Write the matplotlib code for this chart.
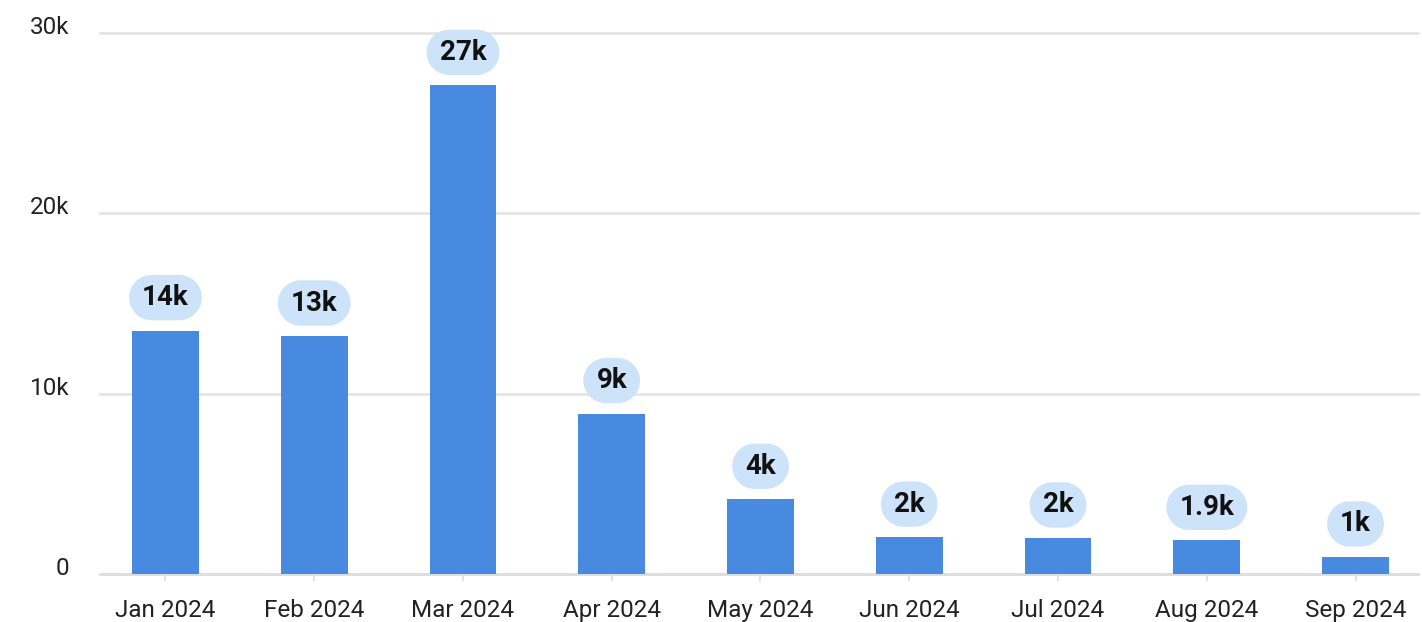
import matplotlib
matplotlib.use("Agg")
import numpy as np
import matplotlib.pyplot as plt
from matplotlib.path import Path
from matplotlib.transforms import ScaledTranslation

months = ["Jan 2024", "Feb 2024", "Mar 2024", "Apr 2024", "May 2024",
          "Jun 2024", "Jul 2024", "Aug 2024", "Sep 2024"]
values = [13500, 13200, 27100, 8900, 4150, 2050, 2000, 1870, 950]
value_labels = ["14k", "13k", "27k", "9k", "4k", "2k", "2k", "1.9k", "1k"]
y_ticks = [0, 10000, 20000, 30000]
y_tick_labels = ["0", "10k", "20k", "30k"]

plt.rcParams["font.family"] = ["Roboto", "DejaVu Sans"]


def pill_box(x0, y0, width, height, mutation_size):
    px = mutation_size * 0.47
    py = mutation_size * 0.33
    x0, y0 = x0 - px, y0 - py
    w, h = width + 2 * px, height + 2 * py
    r = h / 2.0
    t1 = np.linspace(-np.pi / 2, np.pi / 2, 40)
    t2 = np.linspace(np.pi / 2, 3 * np.pi / 2, 40)
    right = np.column_stack([x0 + w - r + r * np.cos(t1), y0 + r + r * np.sin(t1)])
    left = np.column_stack([x0 + r + r * np.cos(t2), y0 + r + r * np.sin(t2)])
    verts = np.vstack([right, left, right[:1]])
    return Path(verts, closed=True)


fig = plt.figure(figsize=(14.22, 6.22), dpi=100)
ax = fig.add_axes([100 / 1422, 48 / 622, 1318 / 1422, 541 / 622])

x = list(range(len(months)))
ax.bar(x, values, width=0.45, color="#478ADF", zorder=3)

ax.set_xlim(-0.44, len(months) - 1 + 0.42)
ax.set_ylim(0, 30000)
ax.set_yticks(y_ticks)
ax.set_yticklabels(y_tick_labels)
ax.set_xticks(x)
ax.set_xticklabels(months)

ax.grid(axis="y", color="#E3E3E3", linewidth=1.8, zorder=0)
for gl in ax.get_ygridlines():
    gl.set_clip_on(False)
ax.set_axisbelow(True)

for s in ["top", "right", "left"]:
    ax.spines[s].set_visible(False)
ax.spines["bottom"].set_color("#DCDCDC")
ax.spines["bottom"].set_linewidth(1.8)

ax.tick_params(axis="y", length=0, pad=22, labelsize=17.5, labelcolor="#222222")
ax.tick_params(axis="x", length=5, width=1.2, color="#DCDCDC", pad=13,
               labelsize=17.5, labelcolor="#222222")

off = ScaledTranslation(0, 8 / 100, fig.dpi_scale_trans)
for lab in ax.get_yticklabels():
    lab.set_transform(lab.get_transform() + off)

for xi, v, lbl in zip(x, values, value_labels):
    ax.annotate(lbl, xy=(xi, v), xytext=(0, 14), textcoords="offset points",
                ha="center", va="bottom", fontsize=20, fontweight="bold", color="#111111",
                annotation_clip=False, zorder=4,
                bbox=dict(boxstyle=pill_box, facecolor="#CCE3FA", edgecolor="none"))

fig.savefig("out.png", dpi=100)
